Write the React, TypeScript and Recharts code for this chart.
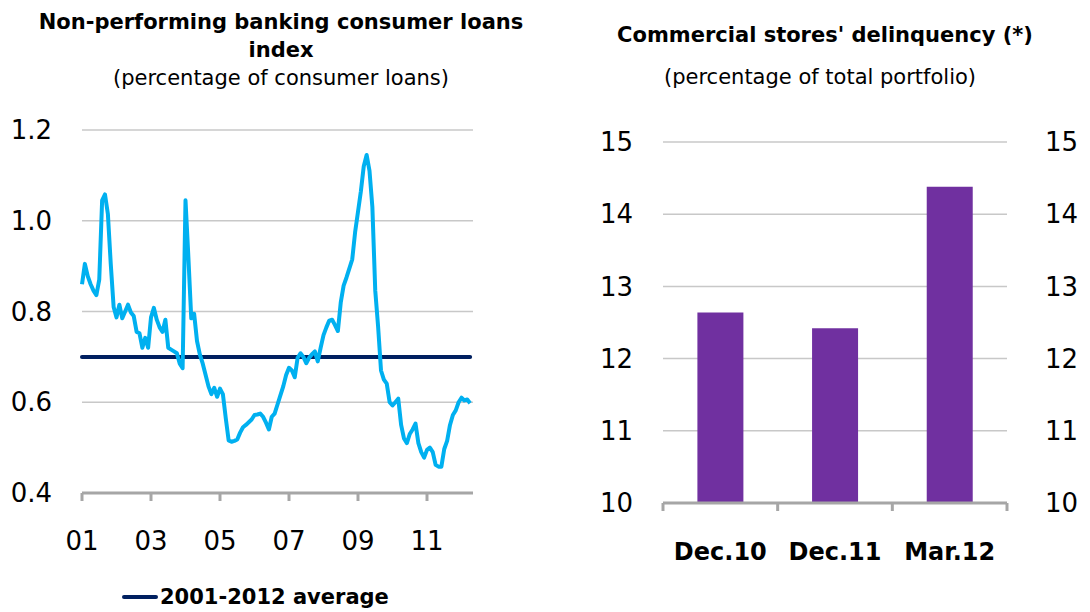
import React from 'react';
import {
  LineChart, Line, BarChart, Bar, XAxis, YAxis, CartesianGrid,
} from 'recharts';

// Non-performing consumer loans index, monthly Jan 2001 - Apr 2012 (% of consumer loans)
const nplIndex = [
  0.86, 0.905, 0.878, 0.86, 0.846, 0.836, 0.87, 1.045, 1.058, 1.015, 0.905, 0.81,
  0.787, 0.815, 0.785, 0.8, 0.815, 0.798, 0.79, 0.755, 0.752, 0.72, 0.742, 0.72,
  0.787, 0.808, 0.782, 0.765, 0.755, 0.782, 0.72, 0.716, 0.712, 0.708, 0.685, 0.675,
  1.045, 0.92, 0.785, 0.795, 0.735, 0.705, 0.685, 0.66, 0.635, 0.618, 0.632, 0.612,
  0.63, 0.618, 0.565, 0.516, 0.513, 0.515, 0.518, 0.533, 0.545, 0.55, 0.556, 0.562,
  0.572, 0.573, 0.575, 0.568, 0.555, 0.54, 0.568, 0.575, 0.595, 0.615, 0.635, 0.66,
  0.676, 0.67, 0.655, 0.698, 0.708, 0.7, 0.686, 0.698, 0.706, 0.712, 0.69, 0.72,
  0.748, 0.765, 0.78, 0.782, 0.77, 0.757, 0.82, 0.857, 0.875, 0.895, 0.915, 0.975,
  1.02, 1.065, 1.12, 1.145, 1.11, 1.03, 0.846, 0.766, 0.67, 0.65, 0.641, 0.6,
  0.593, 0.6, 0.608, 0.55, 0.52, 0.51, 0.53, 0.54, 0.553, 0.51, 0.49, 0.478,
  0.495, 0.5, 0.49, 0.462, 0.458, 0.458, 0.497, 0.515, 0.55, 0.572, 0.582, 0.6,
  0.61, 0.604, 0.606, 0.598,
];
const nplAverage = 0.7;
const yearTicks = [0, 24, 48, 72, 96, 120]; // months since Jan 2001
const yearLabels = ['01', '03', '05', '07', '09', '11'];
const nplTicks = [0.4, 0.6, 0.8, 1.0, 1.2];

// Commercial stores' delinquency (% of total portfolio)
const storePeriods = ['Dec.10', 'Dec.11', 'Mar.12'];
const storeDelinquency = [12.64, 12.42, 14.38];
const storeTicks = [10, 11, 12, 13, 14, 15];

const lineData = nplIndex.map((v, i) => ({ month: i, npl: v, avg: nplAverage }));
const barData = storePeriods.map((p, i) => ({ period: p, value: storeDelinquency[i] }));

const FONT = '"DejaVu Sans", Verdana, sans-serif';
const AXIS_GRAY = '#A6A6A6';
const GRID_GRAY = '#C8C8C8';
const tickStyle = { fill: '#000', fontSize: 26, fontFamily: FONT };

const BAR_TICK_SIZE = 8;
const BAR_TICK_MARGIN = 32;

// category labels with tick marks on the band edges, like the original
const BarTick = (props: any) => {
  const { x, y, payload, index, visibleTicksCount } = props;
  const half = payload.offset ?? 57.3;
  const axisY = y - BAR_TICK_SIZE - BAR_TICK_MARGIN;
  return (
    <g>
      <line x1={x - half} x2={x - half} y1={axisY} y2={axisY + BAR_TICK_SIZE} stroke={AXIS_GRAY} strokeWidth={3} />
      {index === visibleTicksCount - 1 && (
        <line x1={x + half} x2={x + half} y1={axisY} y2={axisY + BAR_TICK_SIZE} stroke={AXIS_GRAY} strokeWidth={3} />
      )}
      <text x={x} y={y} dy="0.71em" textAnchor="middle" fill="#000" fontSize={24} fontWeight="bold" fontFamily={FONT}>
        {payload.value}
      </text>
    </g>
  );
};

const titleStyle: React.CSSProperties = {
  position: 'absolute', fontFamily: FONT, fontWeight: 'bold', fontSize: 21,
  color: '#000', textAlign: 'center', whiteSpace: 'nowrap', lineHeight: '28px',
};
const subStyle: React.CSSProperties = {
  position: 'absolute', fontFamily: FONT, fontSize: 21, color: '#000',
  textAlign: 'center', whiteSpace: 'nowrap', lineHeight: '28px',
};

export default function App() {
  return (
    <div style={{ position: 'absolute', left: 0, top: 0, width: 1090, height: 612, background: '#fff', overflow: 'hidden' }}>
      {/* left panel titles */}
      <div style={{ ...titleStyle, left: 21, width: 520, top: 8 }}>
        Non-performing banking consumer loans<br />index
      </div>
      <div style={{ ...subStyle, left: 21, width: 520, top: 64 }}>(percentage of consumer loans)</div>

      {/* right panel titles */}
      <div style={{ ...titleStyle, left: 565, width: 520, top: 21 }}>Commercial stores' delinquency (*)</div>
      <div style={{ ...subStyle, left: 560, width: 520, top: 63 }}>(percentage of total portfolio)</div>

      <div style={{ position: 'absolute', left: 0, top: 0 }}>
        <LineChart width={540} height={612} data={lineData} margin={{ top: 130, right: 67, bottom: 0, left: 0 }}>
          <CartesianGrid vertical={false} stroke={GRID_GRAY} strokeWidth={1.5} />
          <XAxis
            dataKey="month" type="number" domain={[0, 136]} ticks={yearTicks}
            tickFormatter={(v: number) => yearLabels[yearTicks.indexOf(v)]}
            height={119} tick={tickStyle} tickSize={8} tickMargin={31}
            axisLine={{ stroke: AXIS_GRAY, strokeWidth: 3 }}
            tickLine={{ stroke: AXIS_GRAY, strokeWidth: 3 }}
          />
          <YAxis
            domain={[0.4, 1.2]} ticks={nplTicks} width={82} tick={tickStyle}
            tickFormatter={(v: number) => v.toFixed(1)}
            axisLine={false} tickLine={false} tickSize={0} tickMargin={30}
          />
          <Line dataKey="avg" stroke="#002060" strokeWidth={4} dot={false} isAnimationActive={false} strokeLinecap="round" />
          <Line dataKey="npl" stroke="#00B0F0" strokeWidth={4} dot={false} isAnimationActive={false} strokeLinejoin="round" />
        </LineChart>
      </div>

      {/* legend */}
      <div style={{ position: 'absolute', left: 122, top: 585, display: 'flex', alignItems: 'center', fontFamily: FONT, fontWeight: 'bold', fontSize: 21 }}>
        <span style={{ display: 'inline-block', width: 36, height: 4, borderRadius: 2, background: '#002060', marginRight: 2 }} />
        <span>2001-2012 average</span>
      </div>

      <div style={{ position: 'absolute', left: 560, top: 0 }}>
        <BarChart width={530} height={612} data={barData} margin={{ top: 142, right: 0, bottom: 0, left: 0 }} barCategoryGap="30%">
          <CartesianGrid vertical={false} stroke={GRID_GRAY} strokeWidth={1.5} yAxisId="left" />
          <XAxis
            dataKey="period" height={109} tick={<BarTick />} tickLine={false}
            tickSize={BAR_TICK_SIZE} tickMargin={BAR_TICK_MARGIN}
            axisLine={{ stroke: AXIS_GRAY, strokeWidth: 3 }}
          />
          <YAxis
            yAxisId="left" domain={[10, 15]} ticks={storeTicks} width={103} tick={tickStyle}
            axisLine={false} tickLine={false} tickSize={0} tickMargin={30}
          />
          <YAxis
            yAxisId="right" orientation="right" domain={[10, 15]} ticks={storeTicks} width={83} tick={tickStyle}
            axisLine={false} tickLine={false} tickSize={0} tickMargin={38} allowDataOverflow
          />
          <Bar yAxisId="left" dataKey="value" fill="#7030A0" isAnimationActive={false} />
        </BarChart>
      </div>
    </div>
  );
}
